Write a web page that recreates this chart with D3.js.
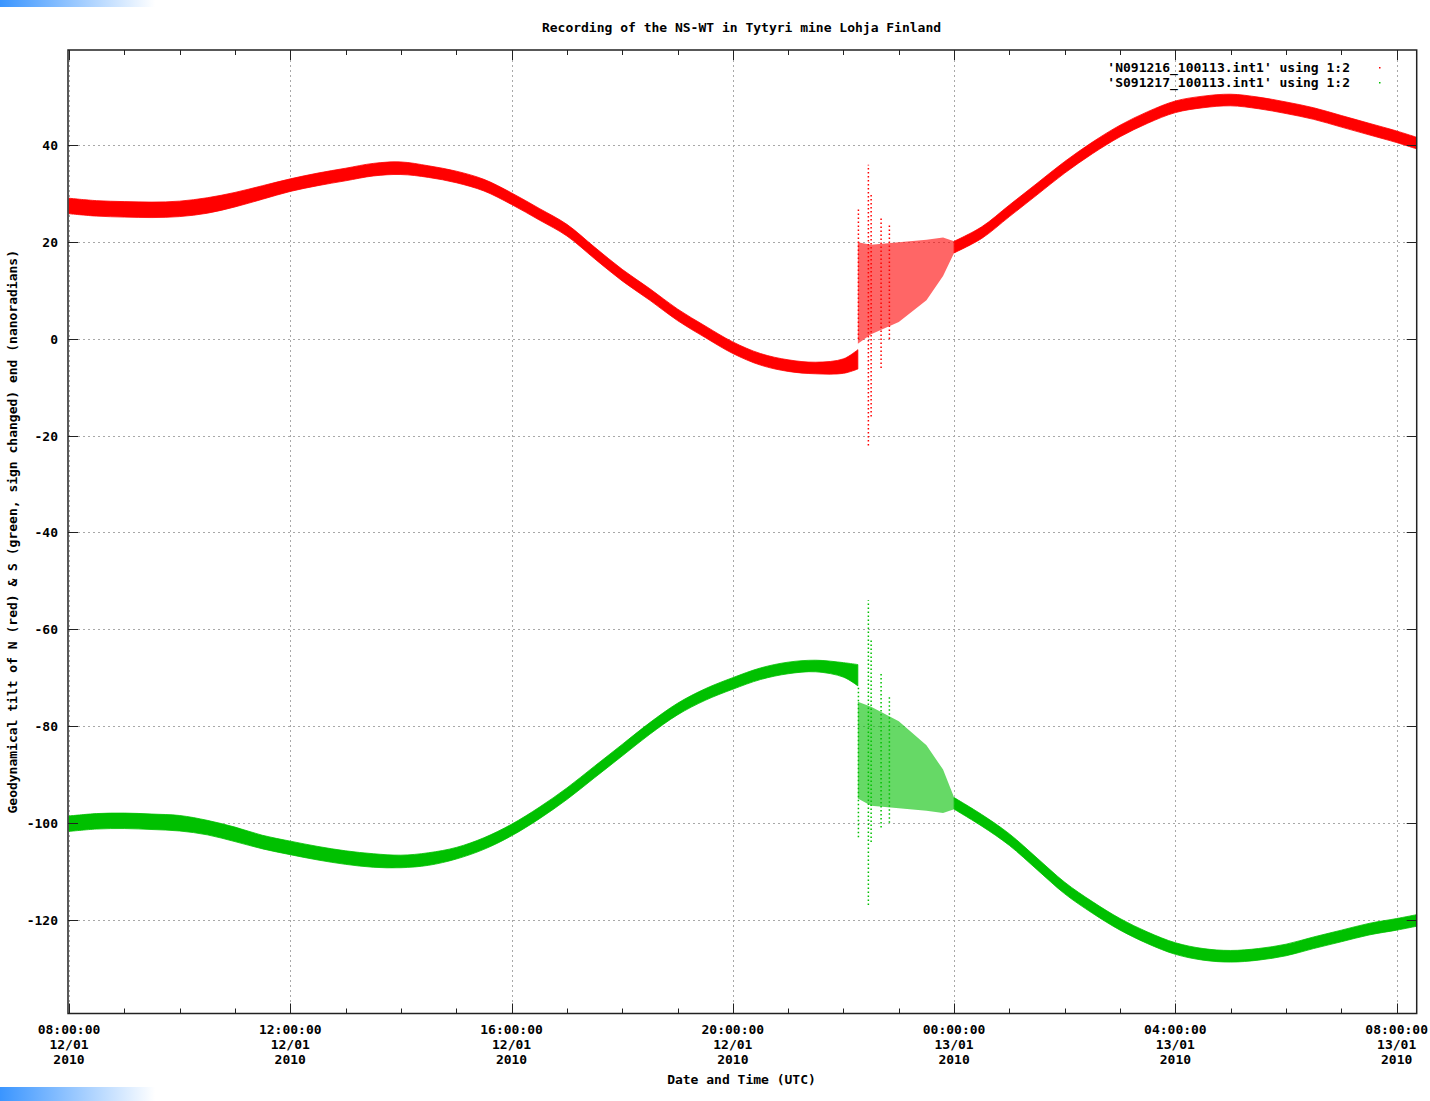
<!DOCTYPE html>
<html>
<head>
<meta charset="utf-8">
<script src="https://cdn.jsdelivr.net/npm/d3@7"></script>
<style>
  body { margin: 0; background: #fff; }
  text {
    font-family: "DejaVu Sans Mono", "Liberation Mono", monospace;
    font-weight: bold;
    font-size: 13px;
    fill: #000;
  }
</style>
</head>
<body>
<div id="chart"></div>
<script>
// hours after 08:00 UTC, 12/01/2010
const hoursA = [0, 0.5, 1, 1.5, 2, 2.5, 3, 3.5, 4, 4.5, 5, 5.5, 6, 6.5, 7, 7.5,
  8, 8.5, 9, 9.5, 10, 10.5, 11, 11.5, 12, 12.5, 13, 13.5, 14, 14.26];
const nMidA = [27.5, 27.0, 26.8, 26.7, 26.9, 27.6, 28.8, 30.3, 31.8, 33.0, 34.0, 35.0,
  35.3, 34.6, 33.5, 31.8, 29.0, 25.8, 22.5, 17.8, 13.2, 9.2, 5.0, 1.5, -1.8, -4.2,
  -5.5, -6.0, -5.6, -4.2];
const nHalfA = [1.6, 1.6, 1.6, 1.6, 1.6, 1.6, 1.5, 1.4, 1.3, 1.3, 1.3, 1.3, 1.3, 1.2,
  1.2, 1.2, 1.2, 1.2, 1.2, 1.2, 1.2, 1.2, 1.2, 1.2, 1.2, 1.2, 1.2, 1.2, 1.5, 2.0];
const sMidA = [-100.2, -99.7, -99.6, -99.8, -100.1, -101.0, -102.4, -104.0, -105.2,
  -106.3, -107.2, -107.8, -108.0, -107.5, -106.3, -104.3, -101.5, -98.0, -94.0, -89.5,
  -85.0, -80.5, -76.5, -73.5, -71.2, -69.2, -68.0, -67.6, -68.4, -69.5];
const sHalfA = [1.6, 1.6, 1.6, 1.6, 1.6, 1.5, 1.5, 1.4, 1.4, 1.4, 1.4, 1.4, 1.3, 1.3,
  1.2, 1.2, 1.2, 1.2, 1.2, 1.2, 1.2, 1.2, 1.2, 1.2, 1.2, 1.2, 1.2, 1.2, 1.5, 2.2];

// disturbed part, cloud of points
const hoursC = [14.26, 14.5, 15, 15.5, 15.8, 16];
const nCloudLo = [-1, 1, 3.5, 8, 13, 17.8];
const nCloudHi = [20, 19.5, 20, 20.5, 21, 20.2];
const sCloudLo = [-95, -96.5, -97, -97.5, -98, -97.2];
const sCloudHi = [-75, -76, -79, -84, -89, -94.8];

// single streaks of scattered points
const spikeHours = [14.27, 14.45, 14.5, 14.68, 14.83];
const nSpikeLo = [0, -22, -16, -6, 0];
const nSpikeHi = [27, 36, 30, 25, 24];
const sSpikeLo = [-103, -117, -104, -101, -100];
const sSpikeHi = [-72, -54, -62, -69, -74];

const hoursB = [16, 16.5, 17, 17.5, 18, 18.5, 19, 19.5, 20, 20.5, 21, 21.5, 22, 22.5,
  23, 23.5, 24, 24.36];
const nMidB = [19.0, 22.0, 26.5, 31.0, 35.5, 39.5, 43.0, 45.8, 48.0, 49.0, 49.4, 48.8,
  47.8, 46.6, 45.0, 43.4, 41.8, 40.5];
const sMidB = [-96.0, -99.5, -103.5, -108.5, -113.5, -117.5, -121.0, -123.8, -126.0,
  -127.2, -127.6, -127.2, -126.3, -124.8, -123.4, -122.0, -121.0, -120.2];
const halfB = 1.2;

const yTicks = [-120, -100, -80, -60, -40, -20, 0, 20, 40];
const legendLabels = ["'N091216_100113.int1' using 1:2", "'S091217_100113.int1' using 1:2"];

const w = 1430;
const h = 1101;
const plotL = 68, plotR = 1416.7, plotT = 50, plotB = 1013.5;
const red = "#ff0000";
const green = "#00c000";

const t0 = Date.UTC(2010, 0, 12, 8);
const toDate = (hr) => new Date(t0 + hr * 3600e3);

const x = d3.scaleUtc()
  .domain([toDate(-0.018), toDate(24.362)])
  .range([plotL, plotR]);
const y = d3.scaleLinear()
  .domain([-139.43, 59.74])
  .range([plotB, plotT]);

const svg = d3.select("#chart")
  .append("svg")
  .attr("width", w)
  .attr("height", h);

// blue bars in the corners
const grad = svg.append("defs").append("linearGradient").attr("id", "blueFade");
grad.append("stop").attr("offset", "0%").attr("stop-color", "#3a95ff");
grad.append("stop").attr("offset", "100%").attr("stop-color", "#ffffff");
svg.append("rect").attr("x", 0).attr("y", 0).attr("width", 155).attr("height", 7)
  .attr("fill", "url(#blueFade)");
svg.append("rect").attr("x", 0).attr("y", 1087).attr("width", 155).attr("height", 14)
  .attr("fill", "url(#blueFade)");

const majorTimes = d3.utcHour.every(4).range(x.domain()[0], x.domain()[1]);
const minorTimes = d3.utcHour.every(1).range(x.domain()[0], x.domain()[1]);

// grid
const grid = svg.append("g")
  .attr("stroke", "#a8a8a8")
  .attr("stroke-width", 1)
  .attr("stroke-dasharray", "2,3");
grid.selectAll("line.gx")
  .data(majorTimes)
  .enter()
  .append("line")
  .attr("x1", (d) => Math.round(x(d)) + 0.5)
  .attr("x2", (d) => Math.round(x(d)) + 0.5)
  .attr("y1", plotT)
  .attr("y2", plotB);
grid.selectAll("line.gy")
  .data(yTicks)
  .enter()
  .append("line")
  .attr("x1", plotL)
  .attr("x2", plotR)
  .attr("y1", (d) => Math.round(y(d)) + 0.5)
  .attr("y2", (d) => Math.round(y(d)) + 0.5);

// series
const rows = (hrs, lo, hi) => hrs.map((hr, i) => ({ t: toDate(hr), lo: lo[i], hi: hi[i] }));
const band = (hrs, mid, half) => hrs.map((hr, i) => {
  const hw = Array.isArray(half) ? half[i] : half;
  return { t: toDate(hr), lo: mid[i] - hw, hi: mid[i] + hw };
});

const area = d3.area()
  .x((d) => x(d.t))
  .y0((d) => y(d.lo))
  .y1((d) => y(d.hi))
  .curve(d3.curveCatmullRom);
const cloudArea = d3.area()
  .x((d) => x(d.t))
  .y0((d) => y(d.lo))
  .y1((d) => y(d.hi));

const series = [
  { color: red, a: band(hoursA, nMidA, nHalfA), b: band(hoursB, nMidB, halfB),
    cloud: rows(hoursC, nCloudLo, nCloudHi), spikes: rows(spikeHours, nSpikeLo, nSpikeHi) },
  { color: green, a: band(hoursA, sMidA, sHalfA), b: band(hoursB, sMidB, halfB),
    cloud: rows(hoursC, sCloudLo, sCloudHi), spikes: rows(spikeHours, sSpikeLo, sSpikeHi) },
];

series.forEach((s) => {
  const g = svg.append("g");
  g.append("path").attr("d", cloudArea(s.cloud))
    .attr("fill", s.color).attr("fill-opacity", 0.6);
  g.selectAll("line")
    .data(s.spikes)
    .enter()
    .append("line")
    .attr("x1", (d) => x(d.t))
    .attr("x2", (d) => x(d.t))
    .attr("y1", (d) => y(d.lo))
    .attr("y2", (d) => y(d.hi))
    .attr("stroke", s.color)
    .attr("stroke-width", 1.5)
    .attr("stroke-dasharray", "1.5,2.5");
  [s.a, s.b].forEach((seg) => {
    g.append("path").attr("d", area(seg))
      .attr("fill", s.color)
      .attr("stroke", s.color)
      .attr("stroke-width", 0.8);
  });
});

// ticks and border
const axes = svg.append("g").attr("stroke", "#222").attr("stroke-width", 1);
const tickLines = (data, len, pos) => {
  axes.selectAll(null)
    .data(data)
    .enter()
    .append("line")
    .attr("x1", (d) => Math.round(x(d)) + 0.5)
    .attr("x2", (d) => Math.round(x(d)) + 0.5)
    .attr("y1", pos)
    .attr("y2", pos + len);
};
tickLines(minorTimes, -5, plotB);
tickLines(minorTimes, 5, plotT);
tickLines(majorTimes, -10, plotB);
tickLines(majorTimes, 10, plotT);
[[plotL, 10], [plotR, -10]].forEach(([px, len]) => {
  axes.selectAll(null)
    .data(yTicks)
    .enter()
    .append("line")
    .attr("x1", px)
    .attr("x2", px + len)
    .attr("y1", (d) => Math.round(y(d)) + 0.5)
    .attr("y2", (d) => Math.round(y(d)) + 0.5);
});
svg.append("rect")
  .attr("x", plotL).attr("y", plotT)
  .attr("width", plotR - plotL).attr("height", plotB - plotT)
  .attr("fill", "none").attr("stroke", "#222").attr("stroke-width", 1.5);

// tick labels
const fmts = [d3.utcFormat("%H:%M:%S"), d3.utcFormat("%d/%m"), d3.utcFormat("%Y")];
const xl = svg.append("g").selectAll("text")
  .data(majorTimes)
  .enter()
  .append("text")
  .attr("text-anchor", "middle");
fmts.forEach((f, k) => {
  xl.append("tspan")
    .attr("x", (d) => x(d))
    .attr("y", 1034 + k * 15)
    .text((d) => f(d));
});

svg.append("g").selectAll("text")
  .data(yTicks)
  .enter()
  .append("text")
  .attr("x", 58)
  .attr("y", (d) => y(d) + 5)
  .attr("text-anchor", "end")
  .text((d) => d);

// titles
svg.append("text")
  .attr("x", 741.5).attr("y", 32)
  .attr("text-anchor", "middle")
  .text("Recording of the NS-WT in Tytyri mine Lohja Finland");
svg.append("text")
  .attr("x", 741.5).attr("y", 1084)
  .attr("text-anchor", "middle")
  .text("Date and Time (UTC)");
svg.append("text")
  .attr("transform", "translate(17," + (plotT + plotB) / 2 + ") rotate(-90)")
  .attr("text-anchor", "middle")
  .text("Geodynamical tilt of N (red) & S (green, sign changed) end (nanoradians)");

// legend
const legend = svg.append("g").selectAll("g")
  .data(legendLabels)
  .enter()
  .append("g");
legend.append("text")
  .attr("x", 1350)
  .attr("y", (d, i) => 72 + i * 15)
  .attr("text-anchor", "end")
  .text((d) => d);
legend.append("rect")
  .attr("x", 1379)
  .attr("y", (d, i) => 67 + i * 15)
  .attr("width", 1.5)
  .attr("height", 1.5)
  .attr("fill", (d, i) => series[i].color);
</script>
</body>
</html>
